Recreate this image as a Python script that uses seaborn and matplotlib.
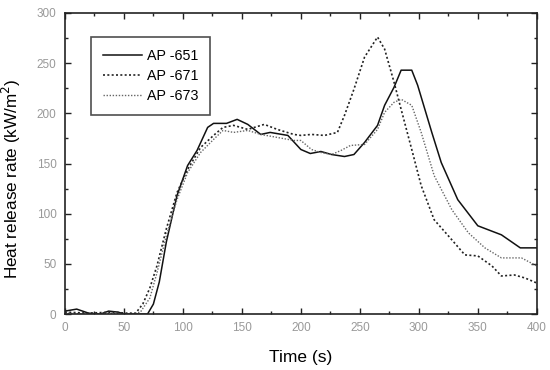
import numpy as np
import pandas as pd
import matplotlib
matplotlib.use("Agg")
import matplotlib.pyplot as plt
import matplotlib.ticker as mtick
import seaborn as sns

# heat release rate curves, time (s) vs HRR (kW/m2)
t_651 = [0, 10, 20, 30, 37, 45, 51, 60, 70, 75, 80, 86, 95, 104, 112, 121, 126, 137, 146,
         155, 166, 174, 189, 200, 208, 217, 226, 237, 245, 254, 265, 271, 279, 285, 294,
         299, 311, 319, 333, 350, 370, 386, 400]
hrr_651 = [3, 5, 1, 0, 3, 2, 0, 0, 0, 10, 32, 72, 118, 148, 163, 186, 190, 190, 194,
           189, 179, 181, 178, 164, 160, 162, 159, 157, 159, 171, 188, 208, 226, 243, 243,
           228, 181, 151, 114, 88, 79, 66, 66]

t_671 = [0, 20, 40, 52, 60, 66, 72, 78, 86, 95, 104, 115, 126, 134, 143, 155, 169, 180,
         194, 200, 209, 220, 231, 237, 245, 254, 265, 271, 279, 285, 294, 302, 313, 328,
         339, 350, 362, 370, 381, 390, 400]
hrr_671 = [2, 1, 2, 1, 1, 10, 26, 48, 85, 121, 144, 166, 178, 186, 188, 184, 189, 184,
           179, 178, 179, 178, 181, 198, 224, 256, 276, 264, 231, 204, 164, 128, 94, 74,
           59, 58, 48, 38, 39, 36, 31]

t_673 = [0, 20, 40, 55, 64, 72, 78, 86, 95, 104, 115, 126, 134, 143, 155, 166, 180, 194,
         200, 209, 217, 226, 234, 242, 254, 265, 271, 279, 285, 294, 302, 313, 328, 342,
         356, 370, 387, 400]
hrr_673 = [1, 0, 1, 0, 2, 16, 41, 78, 114, 141, 161, 174, 183, 181, 183, 179, 176, 173,
           173, 164, 161, 159, 163, 168, 169, 184, 201, 211, 214, 208, 181, 138, 104, 81,
           66, 56, 56, 48]

series = ["AP -651", "AP -671", "AP -673"]

plt.rcParams["font.family"] = ["Liberation Sans", "DejaVu Sans"]

fig = plt.figure(figsize=(5.5, 3.7), dpi=100)
ax = fig.add_axes([0.118, 0.151, 0.858, 0.814])

df1 = pd.DataFrame({"t": t_651, "hrr": hrr_651})
df2 = pd.DataFrame({"t": t_671, "hrr": hrr_671})
df3 = pd.DataFrame({"t": t_673, "hrr": hrr_673})

sns.lineplot(data=df1, x="t", y="hrr", ax=ax, color="#111111", lw=1.1, label=series[0])
sns.lineplot(data=df2, x="t", y="hrr", ax=ax, color="#222222", lw=1.2,
             linestyle=(0, (1.2, 1.4)), label=series[1])
sns.lineplot(data=df3, x="t", y="hrr", ax=ax, color="#666666", lw=1.0,
             linestyle=(0, (1, 1.2)), label=series[2])

ax.set_xlim(0, 400)
ax.set_ylim(0, 300)
ax.xaxis.set_major_locator(mtick.MultipleLocator(50))
ax.xaxis.set_minor_locator(mtick.MultipleLocator(25))
ax.yaxis.set_major_locator(mtick.MultipleLocator(50))
ax.yaxis.set_minor_locator(mtick.MultipleLocator(25))
ax.tick_params(which="both", direction="in", top=True, right=True,
               labelsize=8.5, labelcolor="#999999", width=1, color="#222222")
ax.tick_params(which="major", length=4, pad=6)
ax.tick_params(which="minor", length=2.5)
for s in ax.spines.values():
    s.set_linewidth(1.2)
    s.set_color("#222222")

ax.set_xlabel("Time (s)", fontsize=12.5, labelpad=11)
ax.set_ylabel("Heat release rate (kW/m$^2$)", fontsize=12.3)
ax.yaxis.set_label_coords(-0.089, 0.45)

leg = ax.legend(loc="upper left", bbox_to_anchor=(0.055, 0.92), borderaxespad=0,
                fontsize=10.3, frameon=True, fancybox=False, handlelength=2.7,
                handletextpad=0.35, borderpad=0.85, labelspacing=0.4)
leg.get_frame().set_edgecolor("#222222")
leg.get_frame().set_linewidth(1.2)

fig.savefig("out.png", dpi=100)
